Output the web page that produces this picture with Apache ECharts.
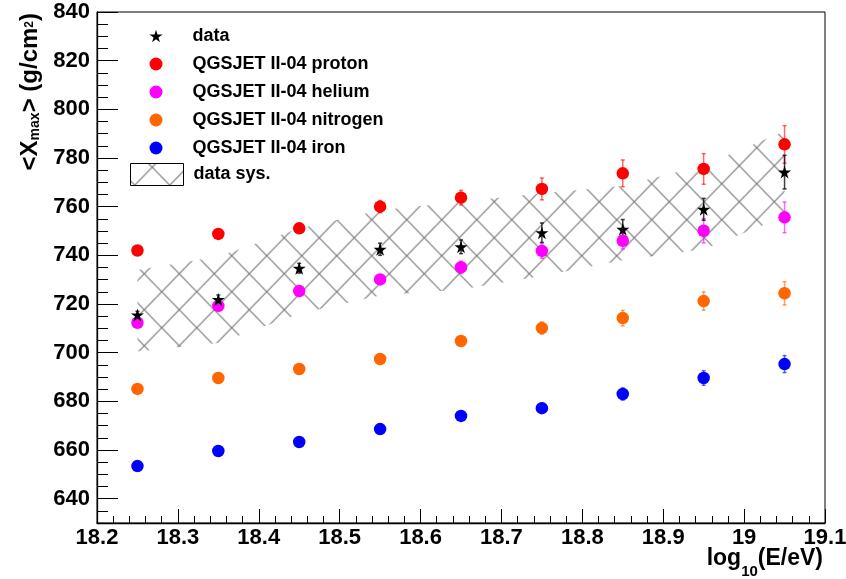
<!DOCTYPE html>
<html>
<head>
<meta charset="utf-8">
<script src="https://cdn.jsdelivr.net/npm/echarts@6/dist/echarts.min.js"></script>
<style>
  html, body { margin: 0; padding: 0; background: #fff; }
  #chart { width: 846px; height: 579px; }
</style>
</head>
<body>
<div id="chart"></div>
<script>
// Energy bins, log10(E/eV)
const energies = [18.25, 18.35, 18.45, 18.55, 18.65, 18.75, 18.85, 18.95, 19.05];

// Measured <Xmax> with statistical errors
const dataXmax = [715.5, 721.9, 734.7, 742.5, 743.5, 749.3, 750.7, 758.9, 774.2];
const dataErr  = [1.5, 1.8, 2.0, 2.5, 2.8, 4.0, 4.0, 4.5, 6.9];

// Systematic band edges
const sysUpper = [734, 739.5, 751, 758.5, 762, 765.5, 768.5, 777, 791];
const sysLower = [700.5, 704, 716, 723.5, 726, 731.5, 738, 742.5, 756];

// QGSJET II-04 predictions
const protonXmax   = [742, 748.8, 751.1, 760, 763.7, 767.3, 773.7, 775.5, 785.6];
const protonErr    = [0.8, 1.0, 1.5, 2.5, 3.0, 4.5, 5.5, 6.3, 7.7];
const heliumXmax   = [712.3, 719.2, 725.3, 730.1, 735.1, 741.8, 746.0, 750.1, 755.6];
const heliumErr    = [0.8, 1.0, 1.2, 1.5, 2.5, 3.0, 3.4, 5.0, 6.3];
const nitrogenXmax = [685.1, 689.6, 693.3, 697.4, 704.8, 710.1, 714.2, 721.2, 724.4];
const nitrogenErr  = [0.8, 1.0, 1.0, 1.5, 1.8, 2.5, 3.2, 3.8, 4.8];
const ironXmax     = [653.4, 659.6, 663.3, 668.6, 674.0, 677.2, 683.0, 689.6, 695.3];
const ironErr      = [0.8, 1.0, 1.0, 1.2, 1.5, 2.0, 2.5, 3.0, 3.5];

const seriesNames = ['data', 'QGSJET II-04 proton', 'QGSJET II-04 helium',
                     'QGSJET II-04 nitrogen', 'QGSJET II-04 iron'];

const FONT = '"Liberation Sans", Arial, Helvetica, sans-serif';
const STAR = 'path://M50,0 L61,35 L98,35 L68,57 L79,91 L50,70 L21,91 L32,57 L2,35 L39,35 Z';

// Cross-hatch tile for the systematic band
function hatchTile() {
  const w = 35, h = 36;
  const c = document.createElement('canvas');
  c.width = w; c.height = h;
  const g = c.getContext('2d');
  g.strokeStyle = '#7a7a7a';
  g.lineWidth = 1.2;
  g.beginPath();
  for (const dx of [-w, 0, w]) {
    g.moveTo(dx, 0); g.lineTo(dx + w, h);
    g.moveTo(dx, h); g.lineTo(dx + w, 0);
  }
  g.stroke();
  return c;
}
const hatch = { image: hatchTile(), repeat: 'repeat', x: 21.7, y: 3.7 };

// Title pieces laid out on a shared baseline (subscripts / superscripts shifted)
const measureCtx = document.createElement('canvas').getContext('2d');
function textWidth(str, size) {
  measureCtx.font = 'bold ' + size + 'px ' + FONT;
  return measureCtx.measureText(str).width;
}
function titlePieces(parts) {
  // parts: [text, fontSize, baselineShift]
  let x = 0;
  const children = parts.map(([t, size, shift]) => {
    const el = {
      type: 'text', x: x, y: shift - 0.3465 * size, silent: true,
      style: { text: t, fill: '#000', align: 'left', verticalAlign: 'middle',
               font: 'bold ' + size + 'px ' + FONT }
    };
    x += textWidth(t, size);
    return el;
  });
  return { children, width: x };
}
const xTitle = titlePieces([['log', 23, 0], ['10', 15, 10.5], ['(E/eV)', 23, 0]]);
const yTitle = titlePieces([['<X', 24, 0], ['max', 14, 1], ['> (g/cm', 24, 0], ['2', 12, -5], [')', 24, 0]]);

function errorBars(name, ys, errs, color) {
  return {
    type: 'custom',
    name: name,
    silent: true,
    z: 3,
    data: energies.map((e, i) => [e, ys[i] - errs[i], ys[i] + errs[i]]),
    encode: { x: 0, y: [1, 2] },
    renderItem: function (params, api) {
      const x = api.value(0);
      const lo = api.coord([x, api.value(1)]);
      const hi = api.coord([x, api.value(2)]);
      const st = { stroke: color, lineWidth: 1.5 };
      return {
        type: 'group',
        children: [
          { type: 'line', shape: { x1: lo[0], y1: lo[1], x2: hi[0], y2: hi[1] }, style: st },
          { type: 'line', shape: { x1: lo[0] - 2, y1: lo[1], x2: lo[0] + 2, y2: lo[1] }, style: st },
          { type: 'line', shape: { x1: hi[0] - 2, y1: hi[1], x2: hi[0] + 2, y2: hi[1] }, style: st }
        ]
      };
    }
  };
}

function points(name, ys, color, symbol, size) {
  return {
    type: 'scatter',
    name: name,
    z: 4,
    symbol: symbol,
    symbolSize: size,
    itemStyle: { color: color, opacity: 1 },
    data: energies.map((e, i) => [e, ys[i]])
  };
}

const chart = echarts.init(document.getElementById('chart'));

chart.setOption({
  animation: false,
  backgroundColor: '#fff',
  grid: {
    left: 97, right: 21, top: 12, bottom: 56,
    show: true, borderColor: '#000', borderWidth: 1,
    containLabel: false, outerBoundsMode: 'none'
  },
  xAxis: {
    type: 'value',
    min: 18.2, max: 19.1, interval: 0.1,
    axisLine: { show: true, lineStyle: { color: '#000', width: 1.3 } },
    axisTick: { show: true, inside: true, length: 14, lineStyle: { color: '#000' } },
    minorTick: { show: true, splitNumber: 5, length: 7, lineStyle: { color: '#000' } },
    splitLine: { show: false },
    axisLabel: {
      color: '#000', fontFamily: FONT, fontWeight: 'bold', fontSize: 22, margin: 4,
      showMinLabel: true, showMaxLabel: true,
      formatter: v => String(+(+v).toFixed(1))
    }
  },
  yAxis: {
    type: 'value',
    min: 630, max: 840,
    splitNumber: 10, minInterval: 20, maxInterval: 20,
    axisLine: { show: true, lineStyle: { color: '#000', width: 1.3 } },
    axisTick: { show: true, inside: true, length: 21, lineStyle: { color: '#000' } },
    minorTick: { show: true, splitNumber: 4, length: 11, lineStyle: { color: '#000' } },
    splitLine: { show: false },
    axisLabel: {
      color: '#000', fontFamily: FONT, fontWeight: 'bold', fontSize: 22, margin: 7,
      showMinLabel: false, showMaxLabel: true
    }
  },
  legend: [
    {
      orient: 'vertical', left: 149.5, top: 27, padding: 0,
      itemWidth: 13, itemHeight: 13, itemGap: 10,
      selectedMode: false,
      data: seriesNames,
      textStyle: { fontFamily: FONT, fontWeight: 'bold', fontSize: 18, color: '#000',
                   padding: [0, 0, 0, 25] }
    },
    {
      orient: 'vertical', left: 130, top: 163, padding: 0,
      itemWidth: 53, itemHeight: 22,
      selectedMode: false,
      data: [{ name: 'data sys.', icon: 'rect',
               itemStyle: { color: hatch, borderColor: '#000', borderWidth: 1 } }],
      textStyle: { fontFamily: FONT, fontWeight: 'bold', fontSize: 18, color: '#000',
                   padding: [0, 0, 0, 5] }
    }
  ],
  graphic: [
    {
      type: 'group',
      x: 823 - xTitle.width, y: 567,
      silent: true,
      children: xTitle.children
    },
    {
      type: 'group',
      x: 38.5, y: 13 + yTitle.width,
      rotation: Math.PI / 2,
      silent: true,
      children: yTitle.children
    }
  ],
  series: [
    {
      type: 'custom',
      name: 'data sys.',
      silent: true,
      z: 2,
      data: energies.map((e, i) => [e, sysLower[i], sysUpper[i]]),
      encode: { x: 0, y: [1, 2] },
      renderItem: function (params, api) {
        if (params.dataIndex !== 0) return;
        const pts = [];
        energies.forEach((e, i) => pts.push(api.coord([e, sysUpper[i]])));
        for (let i = energies.length - 1; i >= 0; i--) pts.push(api.coord([energies[i], sysLower[i]]));
        return { type: 'polygon', shape: { points: pts }, style: { fill: hatch, stroke: null } };
      }
    },
    errorBars('proton err', protonXmax, protonErr, 'rgba(255,0,0,0.6)'),
    errorBars('helium err', heliumXmax, heliumErr, 'rgba(255,0,255,0.6)'),
    errorBars('nitrogen err', nitrogenXmax, nitrogenErr, 'rgba(255,102,0,0.6)'),
    errorBars('iron err', ironXmax, ironErr, 'rgba(0,0,255,0.6)'),
    errorBars('data err', dataXmax, dataErr, 'rgba(0,0,0,0.75)'),
    points('QGSJET II-04 proton', protonXmax, '#ff0000', 'circle', 12.5),
    points('QGSJET II-04 helium', heliumXmax, '#ff00ff', 'circle', 12.5),
    points('QGSJET II-04 nitrogen', nitrogenXmax, '#ff6600', 'circle', 12.5),
    points('QGSJET II-04 iron', ironXmax, '#0000ff', 'circle', 12.5),
    points('data', dataXmax, '#000000', STAR, 13)
  ]
});
</script>
</body>
</html>
